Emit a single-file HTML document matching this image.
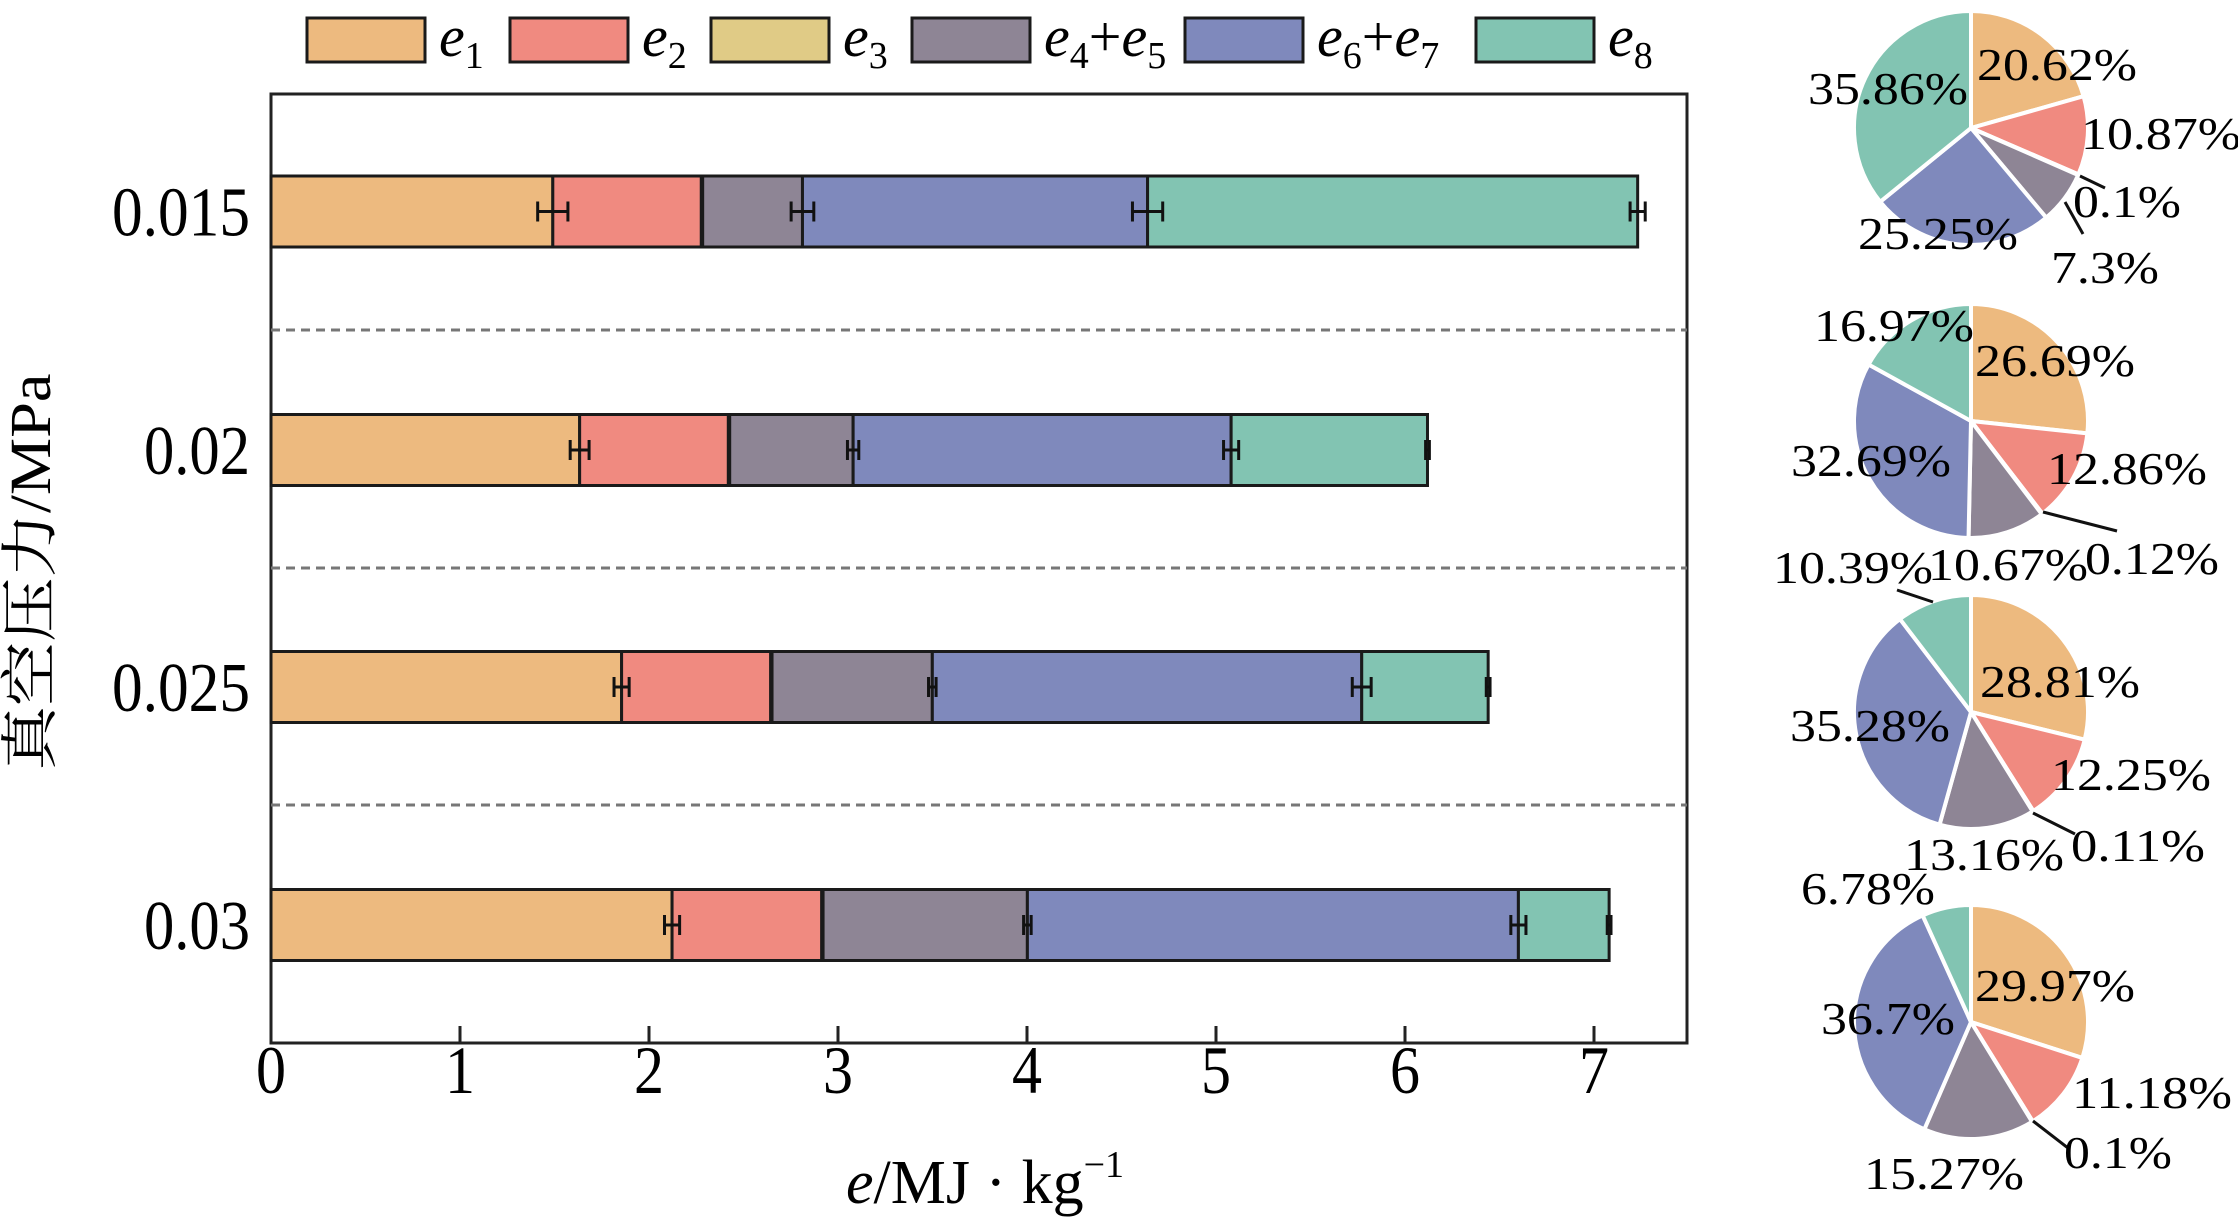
<!DOCTYPE html>
<html><head><meta charset="utf-8"><style>
html,body{margin:0;padding:0;background:#fff;}
svg{display:block;font-family:"Liberation Serif","Noto Serif CJK SC",serif;}
</style></head><body>
<svg id="c" width="2238" height="1222" viewBox="0 0 2238 1222"></svg>
<script>
const categories = ["0.015","0.02","0.025","0.03"];
const e1 = [1.491,1.633,1.855,2.122];
const e2 = [0.786,0.787,0.789,0.792];
const e3 = [0.007,0.007,0.007,0.007];
const e45 = [0.528,0.653,0.848,1.081];
const e67 = [1.826,2.000,2.272,2.598];
const e8 = [2.593,1.039,0.669,0.480];
const errE1 = [0.08,0.05,0.04,0.04];
const errE45 = [0.06,0.03,0.02,0.02];
const errE67 = [0.08,0.04,0.05,0.04];
const errTotal = [0.04,0.01,0.01,0.01];
const xTicks = [0,1,2,3,4,5,6,7];
const seriesNames = ["e1","e2","e3","e4+e5","e6+e7","e8"];
const pieLabels = [
 ["20.62%","10.87%","0.1%","7.3%","25.25%","35.86%"],
 ["26.69%","12.86%","0.12%","10.67%","32.69%","16.97%"],
 ["28.81%","12.25%","0.11%","13.16%","35.28%","10.39%"],
 ["29.97%","11.18%","0.1%","15.27%","36.7%","6.78%"]];
const colors = ["#EDBA7F","#F08A80","#E0CB86","#8E8595","#7F89BC","#82C4B2"];
const NS="http://www.w3.org/2000/svg";
const svg=document.getElementById('c');
function mk(tag,attrs,parent){const e=document.createElementNS(NS,tag);for(const k in attrs)e.setAttribute(k,attrs[k]);(parent||svg).appendChild(e);return e;}
const L=271,R=1687,T=94,B=1043;
const xs=v=>L+v*189;
const rowY=[211.5,450,687,925];
const barH=71;
let box=mk('rect',{x:L,y:T,width:R-L,height:B-T,fill:'none',stroke:'#222','stroke-width':3});


[330,568,805].forEach((y,i)=>{const l=mk('line',{x1:L,x2:R,y1:y,y2:y,stroke:'#777','stroke-width':3,'stroke-dasharray':'9,6'});

});
xTicks.forEach(t=>{const x=xs(t);
if(t>0){const tk=mk('line',{x1:x,x2:x,y1:B,y2:B-17,stroke:'#222','stroke-width':3});

}
const tx=mk('text',{x:x,y:1093,'font-size':68,'text-anchor':'middle',textLength:30,lengthAdjust:'spacingAndGlyphs'});tx.textContent=t;

});
const series=[e1,e2,e3,e45,e67,e8];
categories.forEach((c,i)=>{
 const cy=rowY[i];let acc=0;const ends=[];
 series.forEach((s,k)=>{const x0=xs(acc);acc+=s[i];const x1=xs(acc);ends.push(acc);
  const r=mk('rect',{x:x0,y:cy-barH/2,width:x1-x0,height:barH,fill:colors[k],stroke:'#1a1a1a','stroke-width':3});
  
  });
 const errPos=[[ends[0],errE1[i]],[ends[3],errE45[i]],[ends[4],errE67[i]],[ends[5],errTotal[i]]];
 errPos.forEach(([v,e])=>{const g=mk('g',{stroke:'#111','stroke-width':3});
  
  
  mk('line',{x1:xs(v-e),x2:xs(v+e),y1:cy,y2:cy},g);
  mk('line',{x1:xs(v-e),x2:xs(v-e),y1:cy-10,y2:cy+10},g);
  mk('line',{x1:xs(v+e),x2:xs(v+e),y1:cy-10,y2:cy+10},g);});
 const lb=mk('text',{x:250,y:cy+24,'font-size':70,'text-anchor':'end',textLength:c.length>4?138:106,lengthAdjust:'spacingAndGlyphs'});lb.textContent=c;
 
 
});
let xt=mk('text',{x:985,y:1203,'font-size':62,'text-anchor':'middle'});


xt.innerHTML='<tspan font-style="italic">e</tspan>/MJ · kg<tspan dy="-26" font-size="38">−1</tspan>';
let yt=mk('text',{x:0,y:0,'font-size':58,'text-anchor':'middle',transform:'translate(50,572) rotate(-90)',textLength:397,lengthAdjust:'spacingAndGlyphs'});
yt.textContent='真空压力/MPa';


const legX=[307,510,711,912,1185,1476];
const legSub=[["1"],["2"],["3"],["4","5"],["6","7"],["8"]];
legX.forEach((x,k)=>{const g=mk('g',{});
 
 
 mk('rect',{x:x,y:18,width:118,height:44,fill:colors[k],stroke:'#1a1a1a','stroke-width':3},g);
 const t=mk('text',{x:x+132,y:56,'font-size':58},g);
 let h='<tspan font-style="italic">e</tspan><tspan font-size="38" dy="12">'+legSub[k][0]+'</tspan>';
 if(legSub[k].length>1)h+='<tspan dy="-12">+</tspan><tspan font-style="italic">e</tspan><tspan font-size="38" dy="12">'+legSub[k][1]+'</tspan>';
 t.innerHTML=h;});
const pieCY=[128,421,712,1022],pieCX=1971,pr=117;
const labPos=[
 [[2057,64],[2161,133],[2127,201],[2105,267],[1938,233],[1888,88]],
 [[2055,360],[2127,468],[2152,558],[2008,564],[1871,460],[1894,325]],
 [[2060,681],[2131,774],[2138,845],[1984,854],[1870,725],[1853,567]],
 [[2055,985],[2152,1092],[2118,1152],[1944,1173],[1888,1018],[1868,888]]];
const leaders=[[[2080,176,2105,188],[2065,202,2083,234]],[[2043,512,2117,531]],[[1897,590,1933,602],[2033,813,2075,834]],[[2033,1121,2068,1148]]];
categories.forEach((c,i)=>{
 const vals=series.map(s=>s[i]);const tot=vals.reduce((a,b)=>a+b,0);
 let a=0;const cy=pieCY[i];
 vals.forEach((v,k)=>{const a0=a;a+=v/tot*2*Math.PI;
  const p=(ang)=>[pieCX+pr*Math.sin(ang),cy-pr*Math.cos(ang)];
  const [x0,y0]=p(a0),[x1,y1]=p(a);const large=(a-a0)>Math.PI?1:0;
  const s=mk('path',{d:`M${pieCX},${cy}L${x0},${y0}A${pr},${pr} 0 ${large} 1 ${x1},${y1}Z`,fill:colors[k],stroke:'#fff','stroke-width':4});
  
  });
 leaders[i].forEach(q=>{const l=mk('line',{x1:q[0],y1:q[1],x2:q[2],y2:q[3],stroke:'#111','stroke-width':3});
  
  });
 pieLabels[i].forEach((t,k)=>{const [x,y]=labPos[i][k];
  const tl=t.length>=6?160:(t.length===5?134:108);
  const tx=mk('text',{x:x,y:y+16,'font-size':46,'text-anchor':'middle',textLength:tl,lengthAdjust:'spacingAndGlyphs'});tx.textContent=t;
  
  });
});
</script>
</body></html>
